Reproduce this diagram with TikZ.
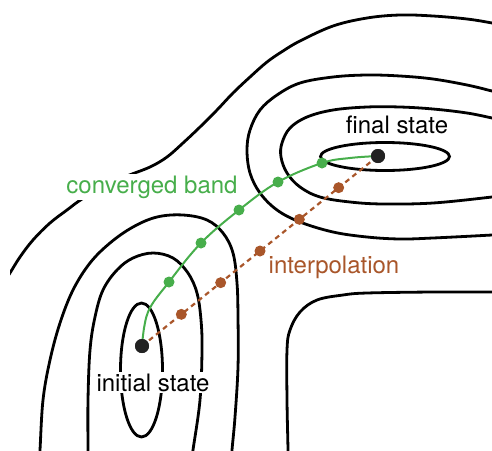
\documentclass[tikz,border=0pt]{standalone}
\usepackage{fontspec}
\setmainfont{TeX Gyre Heros}
\usetikzlibrary{calc}
\definecolor{bandgreen}{HTML}{47AE4B}
\definecolor{interpbrown}{HTML}{A9562A}
\definecolor{dotblack}{HTML}{222222}
\tikzset{
  contour/.style={line width=2.8pt, black},
  statedot/.style={circle, fill=dotblack, inner sep=0pt, minimum size=14pt},
  gdot/.style={circle, fill=bandgreen, inner sep=0pt, minimum size=11pt},
  bdot/.style={circle, fill=interpbrown, inner sep=0pt, minimum size=11pt},
  lbl/.style={fill=white, inner sep=2pt, anchor=base, font=\fontsize{24}{28}\selectfont},
  band/.style={line width=2pt, bandgreen},
  interp/.style={line width=2.2pt, interpbrown, dash pattern=on 5pt off 4pt}
}
\begin{document}
\begin{tikzpicture}[x=1pt,y=-1pt]
\useasboundingbox (0,0) rectangle (492,450);
\begin{scope}
\clip (10,0) rectangle (492,450);
% outer top contour
\draw[contour] plot[smooth, tension=0.6] coordinates {(5,281) (10,273) (20,257) (33,240) (50,223) (67,210) (82,199) (105,186) (127,176) (150,167) (167,157) (183,143) (200,127) (217,110) (233,93) (250,77) (267,62) (283,51) (300,41) (333,26) (367,18) (400,15) (433,16) (467,19) (492,23) (505,26)};
% second contour (final basin)
\draw[contour] plot[smooth, tension=0.6] coordinates {(505,94) (492,91) (467,85) (433,79) (400,76) (367,75) (333,77) (300,83) (277,95) (260,110) (250,130) (247,150) (250,173) (260,193) (277,210) (300,222) (333,232) (367,237) (400,239) (433,238) (492,235) (505,234)};
% third contour
\draw[contour] plot[smooth, tension=0.6] coordinates {(505,121) (492,118) (467,113) (433,109) (400,107) (367,107) (333,110) (307,117) (290,128) (282,143) (281,157) (287,173) (300,187) (320,197) (350,202) (383,204) (433,203) (492,197) (505,195)};
% inner ellipse final
\draw[contour] (385,156.5) ellipse [x radius=64.5pt, y radius=14pt];
% left outer contour
\draw[contour] plot[smooth, tension=0.6] coordinates {(39,465) (40,450) (43,400) (50,360) (60,323) (73,290) (90,263) (110,243) (133,227) (157,217) (183,215) (207,220) (223,233) (233,253) (237,283) (238,317) (238,367) (235,417) (232,450) (231,465)};
% left middle contour
\draw[contour] plot[smooth, tension=0.6] coordinates {(88,465) (88,450) (88,400) (90,350) (95,317) (103,290) (117,270) (133,258) (153,253) (173,258) (188,273) (197,293) (201,320) (202,350) (200,400) (193,450) (191,465)};
% inner left
\draw[contour] (141.5,370) ellipse [x radius=21pt, y radius=67pt];
% bottom right contour
\draw[contour] plot[smooth, tension=0.6] coordinates {(288,465) (288,450) (287,400) (287,350) (290,330) (300,312) (317,300) (343,295) (367,293) (433,292) (492,292) (505,292)};
\end{scope}

% states
\node[statedot] (init) at (142,346) {};
\node[statedot] (final) at (378,156) {};

% interpolation line and dots
\draw[interp] (init.center) -- (final.center);
\foreach \k in {1,...,5} {
  \node[bdot] (b\k) at ($(init)!\k/6!(final)$) {};
}

% converged band
\coordinate (g1) at (169,282);
\coordinate (g2) at (201,243);
\coordinate (g3) at (239,210);
\coordinate (g4) at (278,182);
\coordinate (g5) at (322,163);
\draw[band] plot[smooth, tension=0.6] coordinates {(init.center) (148,312) (g1) (g2) (g3) (g4) (g5) (350,158) (final.center)};
\foreach \k in {1,...,5} {
  \node[gdot] (gd\k) at (g\k) {};
}
\node[statedot] at (init) {};
\node[statedot] at (final) {};

% labels
\node[lbl] (lfinal) at (397,133) {final state};
\node[lbl] (linit) at (153,391) {initial state};
\node[lbl, text=bandgreen] (lband) at (152,193) {converged band};
\node[lbl, text=interpbrown] (linterp) at (334,273) {interpolation};
\end{tikzpicture}
\end{document}
